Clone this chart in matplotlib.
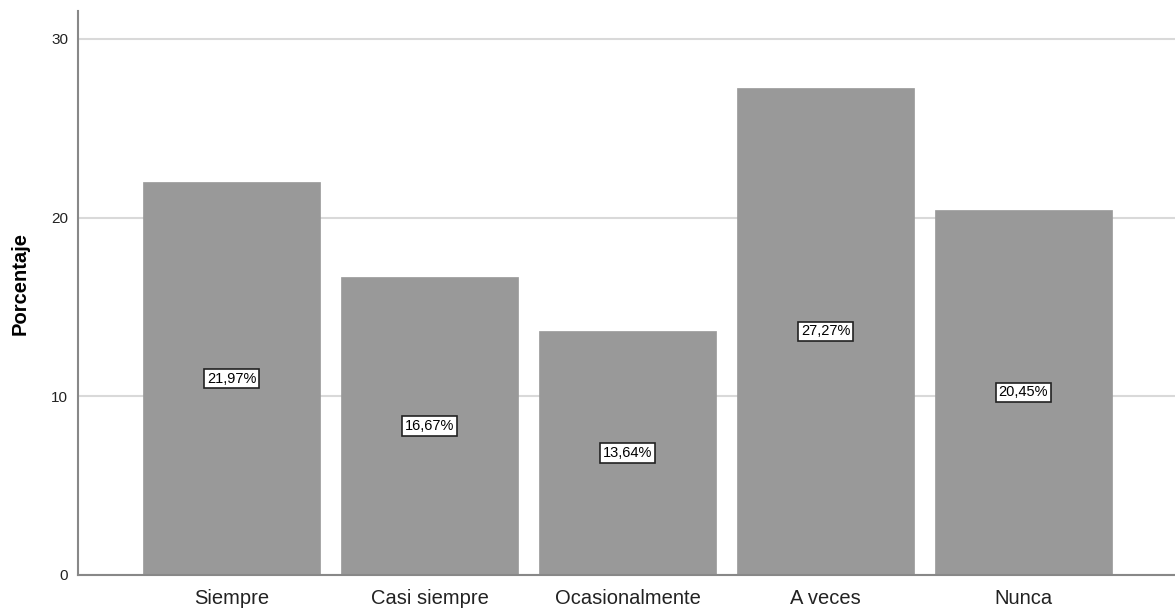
import matplotlib
matplotlib.use("Agg")
import matplotlib.pyplot as plt

plt.rcParams["font.family"] = ["Liberation Sans", "DejaVu Sans"]

categories = ["Siempre", "Casi siempre", "Ocasionalmente", "A veces", "Nunca"]
values = [21.97, 16.67, 13.64, 27.27, 20.45]
labels = ["21,97%", "16,67%", "13,64%", "27,27%", "20,45%"]
yticks = [0, 10, 20, 30]

fig = plt.figure(figsize=(11.75, 6.09), dpi=100)
ax = fig.add_axes([78/1175, 34/609, 1 - 78/1175, (575-11)/609])

ax.set_axisbelow(True)
ax.grid(axis="y", color="#d9d9d9", linewidth=1.5)
x = list(range(len(categories)))
ax.bar(x, values, width=177/198, color="#999999", edgecolor="#999999", linewidth=0.5, zorder=2)
for xi, v, lab in zip(x, values, labels):
    ax.text(xi, v/2, lab, ha="center", va="center", fontsize=10.5, color="black", zorder=3,
            bbox=dict(boxstyle="square,pad=0.18", facecolor="white", edgecolor="#222222", linewidth=1.2))

ax.set_xlim(-153.5/198, (1175-231.5)/198)
ax.set_ylim(0, 31.56)
ax.set_yticks(yticks)
ax.set_yticklabels([str(t) for t in yticks], fontsize=11, color="#222222")
ax.set_xticks(x)
ax.set_xticklabels(categories, fontsize=14.5, color="#222222")
ax.tick_params(axis="x", length=0, pad=10)
ax.tick_params(axis="y", length=0, pad=7)
for s in ["top", "right"]:
    ax.spines[s].set_visible(False)
ax.spines["left"].set_color("#888888")
ax.spines["bottom"].set_color("#888888")
ax.spines["left"].set_linewidth(1.5)
ax.spines["bottom"].set_linewidth(1.5)
ax.set_ylabel("Porcentaje", fontsize=14.5, fontweight="bold")
ax.yaxis.set_label_coords((30 - 78) / 1097, 0.516)

fig.savefig("out.png", dpi=100)
